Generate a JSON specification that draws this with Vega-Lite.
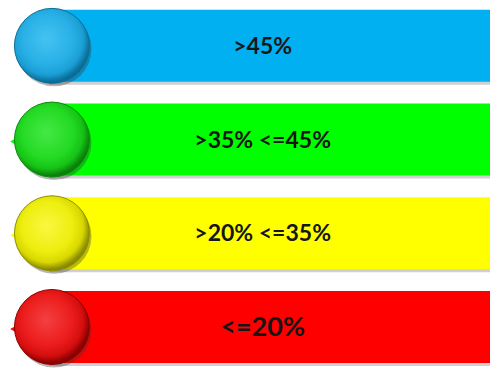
{
  "$schema": "https://vega.github.io/schema/vega-lite/v6.json",
  "autosize": {"type": "fit", "contains": "padding"},
  "width": 490,
  "height": 368,
  "padding": 0,
  "background": "#ffffff",
  "config": {"view": {"stroke": null}},
  "data": {
    "values": [
      {"label": ">45%", "level": "high"},
      {"label": ">35% <=45%", "level": "upper"},
      {"label": ">20% <=35%", "level": "lower"},
      {"label": "<=20%", "level": "low"}
    ]
  },
  "encoding": {
    "y": {
      "field": "label",
      "type": "nominal",
      "sort": null,
      "axis": null,
      "scale": {"paddingInner": 0.2316, "paddingOuter": 0.0526, "align": 1}
    }
  },
  "layer": [
    {
      "mark": {"type": "bar", "color": "#8a8a8a", "opacity": 0.4, "yOffset": 3},
      "encoding": {
        "x": {"datum": 10, "type": "quantitative", "scale": {"domain": [0, 100], "nice": false, "zero": false}, "axis": null},
        "x2": {"datum": 100}
      }
    },
    {
      "mark": {"type": "bar"},
      "encoding": {
        "x": {"datum": 10, "type": "quantitative"},
        "x2": {"datum": 100},
        "color": {
          "field": "level",
          "type": "nominal",
          "legend": null,
          "scale": {"domain": ["high", "upper", "lower", "low"], "range": ["#00b0f0", "#00ff00", "#ffff00", "#ff0000"]}
        }
      }
    },
    {
      "transform": [{"filter": "datum.level !== 'high'"}],
      "mark": {"type": "point", "shape": "triangle-left", "filled": true, "size": 50, "opacity": 1, "yOffset": 2},
      "encoding": {
        "x": {"datum": 2.7, "type": "quantitative"},
        "color": {"field": "level", "type": "nominal", "legend": null}
      }
    },
    {
      "mark": {"type": "point", "filled": true, "size": 5625, "color": "#333333", "opacity": 0.35, "xOffset": 2, "yOffset": 3},
      "encoding": {"x": {"datum": 10.6, "type": "quantitative"}}
    },
    {
      "transform": [{"filter": "datum.level === 'high'"}],
      "mark": {"type": "point", "filled": true, "size": 5625, "opacity": 1, "strokeWidth": 1, "stroke": "#0b6f99",
        "fill": {"gradient": "radial", "x1": 0.42, "y1": 0.4, "r1": 0, "x2": 0.45, "y2": 0.42, "r2": 0.56,
          "stops": [{"offset": 0, "color": "#45c3f2"}, {"offset": 0.6, "color": "#28b0e6"}, {"offset": 0.84, "color": "#1a9fd4"}, {"offset": 1, "color": "#0a6d98"}]}},
      "encoding": {"x": {"datum": 10.6, "type": "quantitative"}}
    },
    {
      "transform": [{"filter": "datum.level === 'upper'"}],
      "mark": {"type": "point", "filled": true, "size": 5625, "opacity": 1, "strokeWidth": 1, "stroke": "#0a8a0a",
        "fill": {"gradient": "radial", "x1": 0.42, "y1": 0.4, "r1": 0, "x2": 0.45, "y2": 0.42, "r2": 0.56,
          "stops": [{"offset": 0, "color": "#45e845"}, {"offset": 0.6, "color": "#24db24"}, {"offset": 0.84, "color": "#16c316"}, {"offset": 1, "color": "#0a800a"}]}},
      "encoding": {"x": {"datum": 10.6, "type": "quantitative"}}
    },
    {
      "transform": [{"filter": "datum.level === 'lower'"}],
      "mark": {"type": "point", "filled": true, "size": 5625, "opacity": 1, "strokeWidth": 1, "stroke": "#8f8f00",
        "fill": {"gradient": "radial", "x1": 0.42, "y1": 0.4, "r1": 0, "x2": 0.45, "y2": 0.42, "r2": 0.56,
          "stops": [{"offset": 0, "color": "#f8f840"}, {"offset": 0.6, "color": "#eeee10"}, {"offset": 0.84, "color": "#d8d800"}, {"offset": 1, "color": "#8a8a00"}]}},
      "encoding": {"x": {"datum": 10.6, "type": "quantitative"}}
    },
    {
      "transform": [{"filter": "datum.level === 'low'"}],
      "mark": {"type": "point", "filled": true, "size": 5625, "opacity": 1, "strokeWidth": 1, "stroke": "#8f0000",
        "fill": {"gradient": "radial", "x1": 0.42, "y1": 0.4, "r1": 0, "x2": 0.45, "y2": 0.42, "r2": 0.56,
          "stops": [{"offset": 0, "color": "#f44040"}, {"offset": 0.6, "color": "#ec1c1c"}, {"offset": 0.84, "color": "#d40e0e"}, {"offset": 1, "color": "#8a0000"}]}},
      "encoding": {"x": {"datum": 10.6, "type": "quantitative"}}
    },
    {
      "mark": {"type": "text", "font": "Lato", "fontWeight": "bold", "color": "#161616", "align": "center", "baseline": "middle", "dy": 1},
      "encoding": {
        "x": {"datum": 53.6, "type": "quantitative"},
        "text": {"field": "label"},
        "size": {"condition": {"test": "datum.level === 'low'", "value": 27}, "value": 23}
      }
    }
  ]
}
